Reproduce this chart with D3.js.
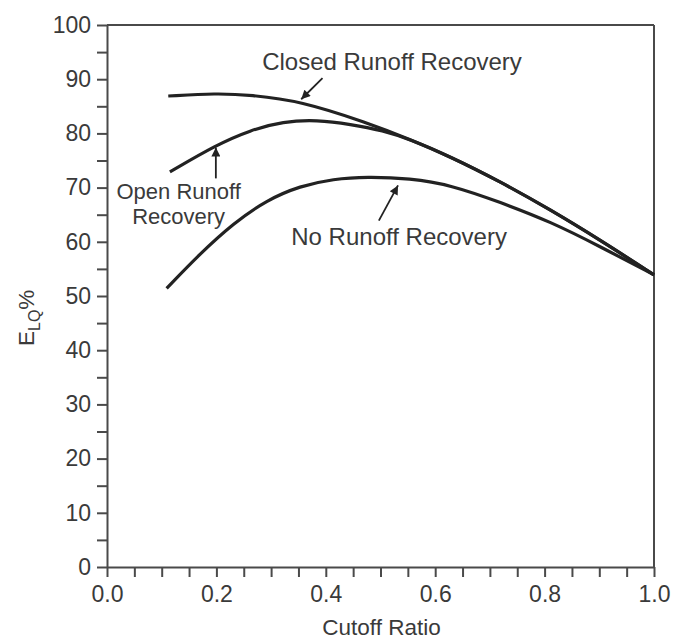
<!DOCTYPE html>
<html>
<head>
<meta charset="utf-8">
<script src="https://cdn.jsdelivr.net/npm/d3@7"></script>
<style>
  html, body { margin: 0; padding: 0; background: #fff; }
  svg { display: block; font-family: "Liberation Sans", Arial, Helvetica, sans-serif; }
</style>
</head>
<body>
<svg id="chart" width="679" height="641"></svg>
<script>
// ---- data ----
const closedX = [0.112, 0.2, 0.262, 0.353, 0.475, 0.554, 0.628, 0.719, 0.811, 0.902, 1.0];
const closedY = [86.9, 87.4, 87.1, 86.0, 82.0, 78.9, 75.7, 71.1, 65.9, 60.3, 53.9];

const openX = [0.115, 0.2, 0.262, 0.322, 0.384, 0.445, 0.505, 0.554, 0.628, 0.719, 0.811, 0.902, 1.0];
const openY = [72.9, 77.9, 80.6, 82.2, 82.5, 81.7, 80.5, 78.9, 75.7, 71.1, 65.9, 60.3, 53.9];

const noneX = [0.109, 0.170, 0.231, 0.292, 0.353, 0.414, 0.475, 0.554, 0.628, 0.719, 0.811, 0.902, 1.0];
const noneY = [51.4, 57.8, 63.4, 67.7, 70.3, 71.6, 72.0, 71.7, 70.5, 67.3, 63.7, 59.1, 53.9];

const xTickLabels = [0.0, 0.2, 0.4, 0.6, 0.8, 1.0];
const yTickLabels = [0, 10, 20, 30, 40, 50, 60, 70, 80, 90, 100];

const xTitle = "Cutoff Ratio";

// annotations (data coordinates)
const labels = [
  { lines: ["Closed Runoff Recovery"], x: 0.521, y: 91.7, size: 24 },
  { lines: ["Open Runoff", "Recovery"], x: 0.131, y: 67.9, size: 22 },
  { lines: ["No Runoff Recovery"], x: 0.534, y: 59.4, size: 24 }
];
const arrows = [
  { from: [0.394, 90.2], to: [0.355, 86.3] },
  { from: [0.199, 71.7], to: [0.199, 77.4] },
  { from: [0.497, 63.9], to: [0.532, 70.4] }
];

// ---- layout ----
const W = 679, H = 641;
const m = { left: 107, top: 25, right: 25, bottom: 74 };
const iw = W - m.left - m.right, ih = H - m.top - m.bottom;
const textColor = "#3a3a3a", axisColor = "#4a4a4a", lineColor = "#222";

const svg = d3.select("#chart");
const g = svg.append("g").attr("transform", `translate(${m.left},${m.top})`);

const x = d3.scaleLinear().domain([0, 1]).range([0, iw]);
const y = d3.scaleLinear().domain([0, 100]).range([ih, 0]);

// frame (top & right)
g.append("line").attr("x1", 0).attr("x2", iw).attr("y1", 0).attr("y2", 0)
  .attr("stroke", axisColor).attr("stroke-width", 2);
g.append("line").attr("x1", iw).attr("x2", iw).attr("y1", 0).attr("y2", ih)
  .attr("stroke", axisColor).attr("stroke-width", 2);

// x axis
const xAxis = d3.axisBottom(x)
  .tickValues(d3.range(0, 1.0001, 0.05))
  .tickSize(10).tickSizeOuter(0)
  .tickFormat(d => xTickLabels.some(v => Math.abs(v - d) < 1e-6) ? d3.format(".1f")(d) : "");
const gx = g.append("g").attr("transform", `translate(0,${ih})`).call(xAxis);
gx.select(".domain").attr("stroke", axisColor).attr("stroke-width", 2);
gx.selectAll(".tick line").attr("stroke", axisColor).attr("stroke-width", 2);
gx.selectAll(".tick text").attr("fill", textColor).attr("font-size", 23)
  .attr("font-family", "Liberation Sans, Arial, sans-serif").attr("dy", null).attr("y", 35);

// y axis
const yAxis = d3.axisLeft(y)
  .tickValues(d3.range(0, 100.001, 5))
  .tickSize(10).tickSizeOuter(0)
  .tickFormat(d => yTickLabels.includes(Math.round(d)) && Math.abs(d % 10) < 1e-6 ? String(d) : "");
const gy = g.append("g").call(yAxis);
gy.select(".domain").attr("stroke", axisColor).attr("stroke-width", 2);
gy.selectAll(".tick line").attr("stroke", axisColor).attr("stroke-width", 2);
gy.selectAll(".tick text").attr("fill", textColor).attr("font-size", 23)
  .attr("font-family", "Liberation Sans, Arial, sans-serif").attr("x", -16);

// axis titles
svg.append("text").attr("x", m.left + iw / 2 + 1).attr("y", 635)
  .attr("text-anchor", "middle").attr("fill", textColor).attr("font-size", 22.5)
  .text(xTitle);

const yt = svg.append("text")
  .attr("transform", `translate(34,346) rotate(-90)`)
  .attr("text-anchor", "start").attr("fill", textColor).attr("font-size", 22.5);
yt.append("tspan").text("E");
yt.append("tspan").attr("font-size", 16).attr("dy", 6).text("LQ");
yt.append("tspan").attr("dy", -6).text("%");

// curves
const line = d3.line().x(d => x(d[0])).y(d => y(d[1])).curve(d3.curveBasis);
const series = [
  d3.zip(closedX, closedY),
  d3.zip(openX, openY),
  d3.zip(noneX, noneY)
];
g.selectAll("path.curve").data(series).join("path")
  .attr("class", "curve")
  .attr("d", line)
  .attr("fill", "none").attr("stroke", lineColor).attr("stroke-width", 3.2)
  .attr("stroke-linecap", "butt");

// arrows
svg.append("defs").append("marker")
  .attr("id", "ah").attr("viewBox", "0 0 10 10").attr("refX", 10).attr("refY", 5)
  .attr("markerWidth", 12).attr("markerHeight", 9).attr("markerUnits", "userSpaceOnUse")
  .attr("orient", "auto")
  .append("path").attr("d", "M0,0 L10,5 L0,10 Z").attr("fill", lineColor);
g.selectAll("line.arrow").data(arrows).join("line")
  .attr("class", "arrow")
  .attr("x1", d => x(d.from[0])).attr("y1", d => y(d.from[1]))
  .attr("x2", d => x(d.to[0])).attr("y2", d => y(d.to[1]))
  .attr("stroke", lineColor).attr("stroke-width", 1.8)
  .attr("marker-end", "url(#ah)");

// labels
labels.forEach(l => {
  const t = g.append("text").attr("text-anchor", "middle").attr("fill", textColor)
    .attr("font-size", l.size);
  l.lines.forEach((s, i) => {
    t.append("tspan").attr("x", x(l.x)).attr("y", y(l.y) + i * (l.size + 3)).text(s);
  });
});
</script>
</body>
</html>
